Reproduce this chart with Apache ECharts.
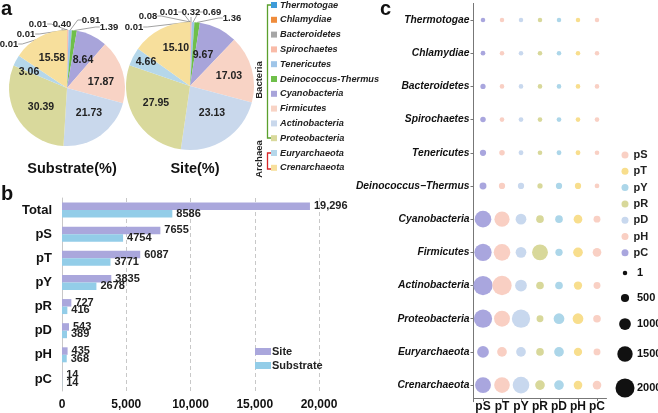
<!DOCTYPE html>
<html><head><meta charset="utf-8">
<script src="https://cdn.jsdelivr.net/npm/echarts@6/dist/echarts.min.js"></script>
<style>html,body{margin:0;padding:0;background:#fff}#c{width:658px;height:413px}</style>
</head><body><div id="c"></div>
<script>
// ---------- DATA ----------
const phyla = ['Thermotogae','Chlamydiae','Bacteroidetes','Spirochaetes','Tenericutes','Deinococcus-Thermus','Cyanobacteria','Firmicutes','Actinobacteria','Proteobacteria','Euryarchaeota','Crenarchaeota'];
const substratePct = [0.01,0.01,0.01,0.40,0.91,1.39,8.64,17.87,21.73,30.39,3.06,15.58];
const sitePct = [0.01,0.08,0.01,0.32,0.69,1.36,9.67,17.03,23.13,27.95,4.66,15.10];
const pieTitles = ['Substrate(%)','Site(%)'];

const barCats = ['Total','pS','pT','pY','pR','pD','pH','pC'];
const siteCounts = [19296,7655,6087,3835,727,543,435,14];
const substrateCounts = [8586,4754,3771,2678,416,389,368,14];
const barSeriesNames = ['Site','Substrate'];

const groups = ['pS','pT','pY','pR','pD','pH','pC'];
const bubblePhyla = ['Thermotogae','Chlamydiae','Bacteroidetes','Spirochaetes','Tenericutes','Deinococcus\u2212Thermus','Cyanobacteria','Firmicutes','Actinobacteria','Proteobacteria','Euryarchaeota','Crenarchaeota'];
// rows: phyla (top to bottom), columns: pS pT pY pR pD pH pC
const bubbleValues = [
  [10,3,3,3,3,3,2],
  [30,8,8,8,8,8,5],
  [100,15,15,10,15,15,10],
  [140,20,30,20,30,20,15],
  [240,140,45,20,45,45,20],
  [330,240,240,100,240,240,30],
  [1670,1470,860,430,430,570,330],
  [1760,1670,860,1570,385,715,570],
  [2040,2050,1000,430,430,520,330],
  [1900,1570,1900,330,860,860,430],
  [1000,715,715,430,715,520,330],
  [1570,1530,1670,715,715,570,570]
];
const sizeLegendValues = [1,500,1000,1500,2000];

// ---------- STYLES ----------
const FF = 'Liberation Sans';
const phylaColors = ['#3e9bd9','#ef8c3c','#a6a6a6','#f9bba8','#9fc5e8','#6fbf4a','#a8a4da','#f8d3c5','#c9d8ec','#d9d99c','#b5d7ea','#f7df9c'];
const barColors = ['#aaa7dc','#93cde8'];
const groupColors = ['#a9a6de','#f9cfc3','#c8d8ee','#d8d89a','#acd6e9','#f8de8d','#f9d0c4'];
const groupLegendColors = groupColors.slice().reverse();
const sizeFn = v => 4.5 + 14.5 * v / 2000;
const sizeLegendY = [273,298,324,354,388];

// label anchor positions for the pies (px)
const pieLabelPos = [
  [[38,24],[26,34],[9,44],[62,24],[91,20],[109,27],[83,60],[101,82],[89,113],[41,107],[29,72],[52,58]],
  [[169,12],[148,16],[134,27],[191,12],[212,12],[232,18],[203,55],[229,76],[212,113],[156,103],[146,62],[176,48]]
];
const pieCenters = [[67,88],[190,86]];
const pieRadii = [58,64];

function pieSeries(vals, k){
  return {
    type:'pie', center:pieCenters[k], radius:pieRadii[k], startAngle:90, clockwise:true,
    avoidLabelOverlap:false, animation:false,
    data: phyla.map((n,i)=>({
      name:n, value:vals[i], itemStyle:{color:phylaColors[i]},
      label:{position: vals[i] < 2 ? 'outside' : 'inside', fontSize: vals[i] < 2 ? 9.5 : 10.5},
      labelLine:{show: vals[i] < 2}
    })),
    label:{show:true, formatter:p=>p.value.toFixed(2), fontFamily:FF, fontWeight:'bold', fontSize:10.5, color:'#222'},
    labelLine:{length:4, length2:4, lineStyle:{color:'#8a8a8a', width:0.8}},
    labelLayout: function(params){
      const p = pieLabelPos[k][params.dataIndex];
      return {x:p[0], y:p[1], align:'center', verticalAlign:'middle'};
    }
  };
}

const fmtBar = v => v >= 10000 ? v.toLocaleString('en-US') : String(v);

const option = {
  animation:false,
  title: pieTitles.map((t,k)=>({
    text:t, left:pieCenters[k][0], top:156, textAlign:'center',
    textStyle:{fontFamily:FF, fontWeight:'bold', fontSize:14.5, color:'#111'}
  })),
  legend: [
    {data:phyla, orient:'vertical', left:271, top:-1, padding:0, icon:'rect', itemWidth:6, itemHeight:6, itemGap:2.8, selectedMode:false,
     textStyle:{fontFamily:FF, fontStyle:'italic', fontWeight:'bold', fontSize:9.2, lineHeight:12, color:'#222', padding:[0,0,0,-2]}},
    {data:barSeriesNames, orient:'vertical', left:255, top:345, padding:0, icon:'rect', itemWidth:16, itemHeight:7, itemGap:1, selectedMode:false,
     textStyle:{fontFamily:FF, fontWeight:'bold', fontSize:11, lineHeight:13, color:'#222', padding:[0,0,0,-4]}},
    {data:groups.map((g,j)=>({name:g, itemStyle:{color:groupLegendColors[j]}})), orient:'vertical', left:621.5, top:148.5, padding:0,
     icon:'circle', itemWidth:7, itemHeight:7, itemGap:3.3, selectedMode:false,
     textStyle:{fontFamily:FF, fontWeight:'bold', fontSize:11, lineHeight:13, color:'#222'}}
  ],
  grid: [
    {left:62, right:339, top:198, bottom:22},
    {left:473.5, right:51.5, top:3.4, bottom:10.3}
  ],
  xAxis: [
    {gridIndex:0, type:'value', min:0, max:20000, interval:5000,
     axisLine:{show:false}, axisTick:{show:false},
     splitLine:{show:true, lineStyle:{type:[4,3], color:'#c8c8c8', width:1}},
     axisLabel:{formatter:v=>v.toLocaleString('en-US'), fontFamily:FF, fontWeight:'bold', fontSize:12, color:'#111', margin:8}},
    {gridIndex:1, type:'category', data:groups, offset:-3.7,
     axisLine:{show:true, lineStyle:{color:'#777', width:1}}, axisTick:{show:true, length:3, alignWithLabel:true, interval:0, lineStyle:{color:'#777'}},
     axisLabel:{interval:0, fontFamily:FF, fontWeight:'bold', fontSize:12, color:'#111', margin:3}}
  ],
  yAxis: [
    {gridIndex:0, type:'category', data:barCats, inverse:true,
     axisLine:{show:true, lineStyle:{color:'#c8c8c8', width:1}}, axisTick:{show:false},
     axisLabel:{interval:0, fontFamily:FF, fontWeight:'bold', fontSize:13, color:'#111', margin:10}},
    {gridIndex:1, type:'category', data:bubblePhyla, inverse:true,
     axisLine:{show:true, lineStyle:{color:'#777', width:1}}, axisTick:{show:true, length:3, alignWithLabel:true, interval:0, lineStyle:{color:'#777'}},
     axisLabel:{interval:0, fontFamily:FF, fontStyle:'italic', fontWeight:'bold', fontSize:10.3, color:'#111', margin:4}}
  ],
  series: [
    pieSeries(substratePct,0),
    pieSeries(sitePct,1),
    ...[siteCounts, substrateCounts].map((arr,s)=>({
      type:'bar', name:barSeriesNames[s], xAxisIndex:0, yAxisIndex:0, data:arr,
      barWidth:7.5, barGap:'0%', itemStyle:{color:barColors[s]},
      label:{show:true, position:'right', distance:4, formatter:p=>fmtBar(p.value),
             fontFamily:FF, fontWeight:'bold', fontSize:11, color:'#222'}
    })),
    ...groups.map((g,j)=>({
      type:'scatter', name:g, xAxisIndex:1, yAxisIndex:1,
      data: bubblePhyla.map((p,i)=>[g, p, bubbleValues[i][j]]),
      symbolSize: d => sizeFn(d[2]),
      itemStyle:{color:groupColors[j], opacity:1}
    }))
  ],
  graphic: [
    {type:'text', left:1, top:-1, style:{text:'a', font:'bold 20px '+FF, fill:'#111'}},
    {type:'text', left:1, top:184, style:{text:'b', font:'bold 20px '+FF, fill:'#111'}},
    {type:'text', left:380, top:-1, style:{text:'c', font:'bold 20px '+FF, fill:'#111'}},
    {type:'polyline', shape:{points:[[272,5],[267.5,5],[267.5,138],[272,138]]}, style:{stroke:'#5aa02c', lineWidth:1.3, fill:null}},
    {type:'polyline', shape:{points:[[272,153],[267.5,153],[267.5,169],[272,169]]}, style:{stroke:'#d62728', lineWidth:1.3, fill:null}},
    {type:'text', x:259, y:80, rotation:Math.PI/2, style:{text:'Bacteria', font:'bold 9.5px '+FF, fill:'#222', align:'center', verticalAlign:'middle'}},
    {type:'text', x:259, y:159, rotation:Math.PI/2, style:{text:'Archaea', font:'bold 9.5px '+FF, fill:'#222', align:'center', verticalAlign:'middle'}},
    ...sizeLegendValues.map((v,i)=>({type:'circle', shape:{cx:625, cy:sizeLegendY[i], r:sizeFn(v)/2}, style:{fill:'#111'}})),
    ...sizeLegendValues.map((v,i)=>({type:'text', x:637, y:sizeLegendY[i], style:{text:String(v), font:'bold 11px '+FF, fill:'#111', verticalAlign:'middle'}}))
  ]
};
const chart = echarts.init(document.getElementById('c'));
chart.setOption(option);
</script>
</body></html>
